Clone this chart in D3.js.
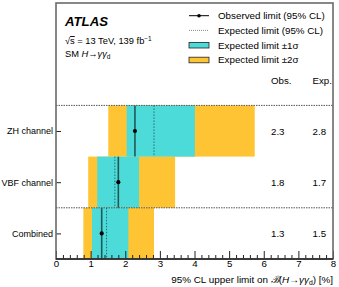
<!DOCTYPE html>
<html><head><meta charset="utf-8">
<script src="https://cdn.jsdelivr.net/npm/d3@7"></script>
<style>
html,body{margin:0;padding:0;background:#fff;}
svg{display:block;font-family:"Liberation Sans",Arial,Helvetica,sans-serif;}
</style></head>
<body>
<svg id="c" width="339" height="287"></svg>
<script>
// ---- data ----
const channels = ["Combined", "VBF channel", "ZH channel"];
const observed = [1.32, 1.80, 2.28];
const expected = [1.46, 1.70, 2.83];
const expMinus2 = [0.79, 0.93, 1.51];
const expMinus1 = [1.04, 1.19, 2.04];
const expPlus1 = [2.09, 2.40, 4.01];
const expPlus2 = [2.83, 3.44, 5.74];
const xMajorTicks = [0, 1, 2, 3, 4, 5, 6, 7, 8];
const legendLabels = ["Observed limit (95% CL)", "Expected limit (95% CL)", "Expected limit \u00b11\u03c3", "Expected limit \u00b12\u03c3"];

const CYAN = "#4cdbd9", YELLOW = "#fec434";
const L = 56, R = 333, T = 3, B = 259;
const svg = d3.select("#c");
const x = d3.scaleLinear().domain([0, 8]).range([L, R]);
const y = d3.scaleLinear().domain([0, 5]).range([B, T]);

const rows = channels.map((c, i) => ({c, i, obs: observed[i], exp: expected[i],
  m2: expMinus2[i], m1: expMinus1[i], p1: expPlus1[i], p2: expPlus2[i]}));

const g = svg.append("g");
// bands
g.selectAll("rect.y2").data(rows).join("rect")
  .attr("x", d => x(d.m2)).attr("width", d => x(d.p2) - x(d.m2))
  .attr("y", d => y(d.i + 1)).attr("height", d => y(d.i) - y(d.i + 1))
  .attr("fill", YELLOW);
g.selectAll("rect.y1").data(rows).join("rect")
  .attr("x", d => x(d.m1)).attr("width", d => x(d.p1) - x(d.m1))
  .attr("y", d => y(d.i + 1)).attr("height", d => y(d.i) - y(d.i + 1))
  .attr("fill", CYAN);
// expected dotted
g.selectAll("line.exp").data(rows).join("line")
  .attr("x1", d => x(d.exp)).attr("x2", d => x(d.exp))
  .attr("y1", d => y(d.i + 1)).attr("y2", d => y(d.i))
  .attr("stroke", "#1f6f6f").attr("stroke-width", 1).attr("stroke-dasharray", "1.5,1.5");
// observed
g.selectAll("line.obs").data(rows).join("line")
  .attr("x1", d => x(d.obs)).attr("x2", d => x(d.obs))
  .attr("y1", d => y(d.i + 1)).attr("y2", d => y(d.i))
  .attr("stroke", "#000").attr("stroke-opacity", 0.6).attr("stroke-width", 1.6);
g.selectAll("circle.obs").data(rows).join("circle")
  .attr("cx", d => x(d.obs)).attr("cy", d => y(d.i + 0.5)).attr("r", 2.1).attr("fill", "#000");

// separators
[1, 3].forEach(v => {
  svg.append("line").attr("x1", L).attr("x2", R).attr("y1", y(v)).attr("y2", y(v))
    .attr("stroke", "#555").attr("stroke-width", 1).attr("stroke-dasharray", "1.5,1");
});

// numeric text
const fmt = d3.format(".1f");
svg.selectAll("text.ov").data(rows).join("text")
  .attr("x", x(6.21)).attr("y", d => y(d.i + 0.5) + 4).attr("font-size", 9.7).text(d => fmt(d.obs));
svg.selectAll("text.ev").data(rows).join("text")
  .attr("x", x(7.41)).attr("y", d => y(d.i + 0.5) + 4).attr("font-size", 9.7).text(d => fmt(d.exp));
svg.append("text").attr("x", x(6.21)).attr("y", y(3.5) + 4).attr("font-size", 9.7).text("Obs.");
svg.append("text").attr("x", x(7.41)).attr("y", y(3.5) + 4).attr("font-size", 9.7).text("Exp.");

// axes
const minor = d3.range(0, 8.001, 0.2).filter(v => Math.abs(v - Math.round(v)) > 1e-6);
const axMin = svg.append("g").attr("transform", `translate(0,${B})`)
  .call(d3.axisBottom(x).tickValues(minor).tickSize(-4).tickFormat(""));
axMin.select(".domain").remove();
const axMaj = svg.append("g").attr("transform", `translate(0,${B})`)
  .call(d3.axisBottom(x).tickValues(xMajorTicks).tickSize(-8).tickPadding(1.5).tickFormat(d3.format("d")));
axMaj.selectAll("text").attr("font-size", 9.7).attr("fill", "#000").attr("font-family", null);
axMaj.select(".domain").remove();
const axY = svg.append("g").attr("transform", `translate(${L},0)`)
  .call(d3.axisLeft(y).tickValues([0.5, 1.5, 2.5]).tickSize(-5).tickPadding(3).tickFormat((d, i) => channels[i]));
axY.selectAll("text").attr("font-size", 9).attr("fill", "#000").attr("font-family", null);
axY.select(".domain").remove();
svg.selectAll(".tick line").attr("stroke", "#222");

// frame
svg.append("rect").attr("x", L).attr("y", T).attr("width", R - L).attr("height", B - T)
  .attr("fill", "none").attr("stroke", "#6a6a6a").attr("stroke-width", 1.6);
svg.append("line").attr("x1", L).attr("x2", R).attr("y1", B).attr("y2", B).attr("stroke", "#222").attr("stroke-width", 1.4);

// ATLAS labels
svg.append("text").attr("x", 65).attr("y", 26).attr("font-size", 13.2).attr("font-weight", "bold")
  .attr("font-style", "italic").text("ATLAS");
const t1 = svg.append("text").attr("x", 65).attr("y", 44).attr("font-size", 9.3);
t1.append("tspan").text("\u221a");
t1.append("tspan").attr("style", "text-decoration:overline").text("s");
t1.append("tspan").text(" = 13 TeV, 139 fb");
t1.append("tspan").attr("font-size", 6.5).attr("dy", -3.5).text("\u22121");
const t2 = svg.append("text").attr("x", 65).attr("y", 57).attr("font-size", 9.3);
t2.append("tspan").text("SM ");
t2.append("tspan").attr("font-style", "italic").text("H");
t2.append("tspan").text("\u2192");
t2.append("tspan").attr("font-style", "italic").text("\u03b3\u03b3");
t2.append("tspan").attr("font-size", 6.5).attr("dy", 2).text("d");

// legend
const lx1 = 189, lx2 = 209, ltx = 218;
const ly = [15.7, 30.4, 45.2, 60];
svg.append("line").attr("x1", lx1).attr("x2", lx2).attr("y1", ly[0]).attr("y2", ly[0]).attr("stroke", "#000").attr("stroke-width", 1);
svg.append("circle").attr("cx", (lx1 + lx2) / 2).attr("cy", ly[0]).attr("r", 1.8).attr("fill", "#000");
svg.append("line").attr("x1", lx1).attr("x2", lx2).attr("y1", ly[1]).attr("y2", ly[1]).attr("stroke", "#888").attr("stroke-width", 1).attr("stroke-dasharray", "1,1");
svg.append("rect").attr("x", lx1).attr("y", ly[2] - 2.8).attr("width", lx2 - lx1).attr("height", 5.6).attr("fill", CYAN).attr("stroke", "#222").attr("stroke-width", 0.8);
svg.append("rect").attr("x", lx1).attr("y", ly[3] - 2.8).attr("width", lx2 - lx1).attr("height", 5.6).attr("fill", YELLOW).attr("stroke", "#222").attr("stroke-width", 0.8);
svg.selectAll("text.leg").data(legendLabels).join("text")
  .attr("x", ltx).attr("y", (d, i) => ly[i] + 3.4).attr("font-size", 9.8).text(d => d);

// x label
const xl = svg.append("text").attr("x", R).attr("y", 282.5).attr("text-anchor", "end").attr("font-size", 9.9);
xl.append("tspan").text("95% CL upper limit on ");
xl.append("tspan").attr("font-style", "italic").attr("font-family", "DejaVu Serif, serif").text("\u212c");
xl.append("tspan").text("(");
xl.append("tspan").attr("font-style", "italic").text("H");
xl.append("tspan").text("\u2192");
xl.append("tspan").attr("font-style", "italic").text("\u03b3\u03b3");
xl.append("tspan").attr("font-size", 6.8).attr("dy", 2).text("d");
xl.append("tspan").attr("dy", -2).text(") [%]");
</script>
</body></html>
